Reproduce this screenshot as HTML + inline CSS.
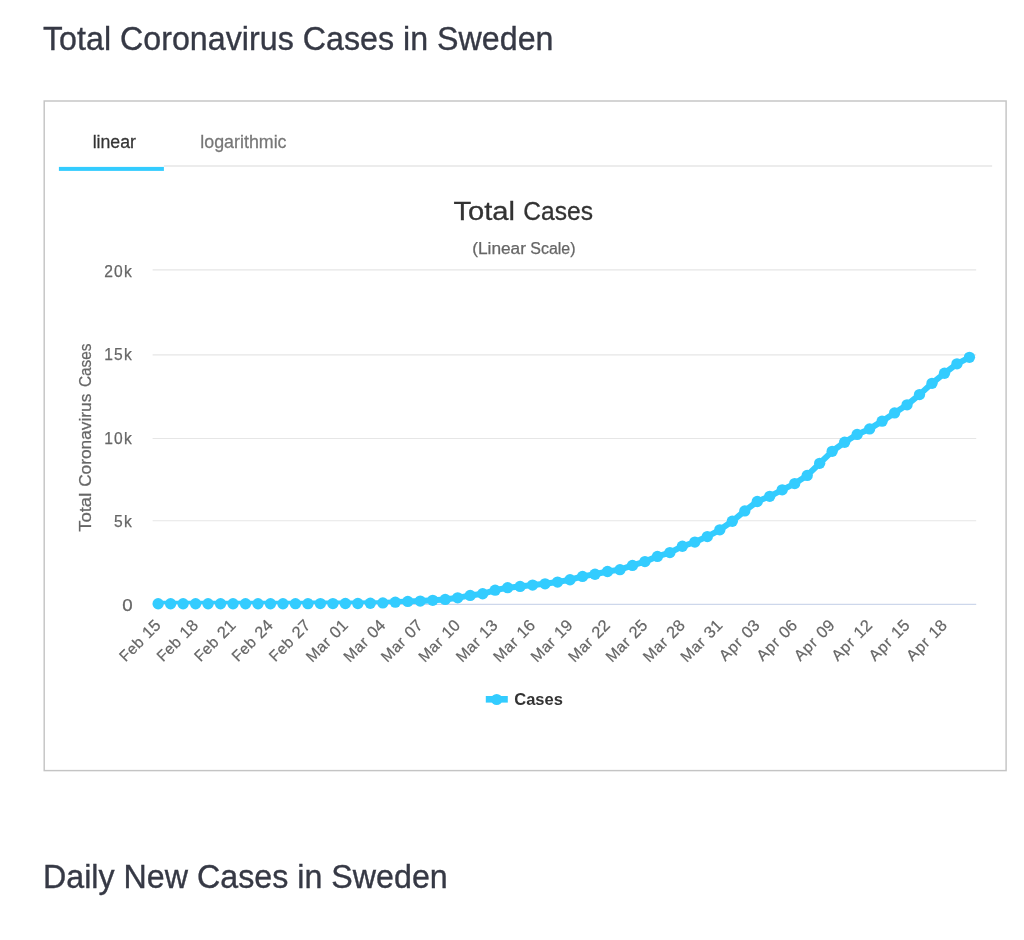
<!DOCTYPE html>
<html lang="en">
<head>
<meta charset="utf-8">
<title>Total Coronavirus Cases in Sweden</title>
<style>
html,body{margin:0;padding:0;background:#fff;}
body{width:1024px;height:940px;position:relative;overflow:hidden;font-family:"Liberation Sans",sans-serif;color:#363945;}
h3,ul,li,a,div{margin:0;padding:0;list-style:none;font-weight:normal;font-size:0;line-height:0;text-decoration:none;color:inherit;}
/* every piece is an inline svg pinned in page coordinates; own layer => greyscale text AA like the reference */
svg{position:absolute;will-change:transform;overflow:visible;}
svg text{font-family:"Liberation Sans",sans-serif;}
</style>
</head>
<body>
<h3 id="total-cases-heading"><svg style="left:0px;top:0px" width="1024" height="80" viewBox="0 0 1024 80"><text font-size="32.2" fill="#363945" stroke="#363945" stroke-width="0.35" letter-spacing="0.02" transform="translate(43,50.18) scale(1,1.035)">Total Coronavirus Cases in Sweden</text></svg></h3>
<div id="total-cases-panel">
<svg class="frame" style="left:40px;top:96px" width="972" height="680" viewBox="40 96 972 680"><rect x="44.2" y="101" width="961.9" height="669.6" fill="none" stroke="#c4c4c4" stroke-width="1.45"/></svg>
<ul class="nav nav-tabs">
<li class="active"><a><svg style="left:60px;top:120px" width="104" height="44" viewBox="60 120 104 44"><text transform="translate(92.65,147.5) scale(1,1.02)" font-size="17.7" fill="#333" stroke="#333" stroke-width="0.25">linear</text></svg></a></li>
<li><a><svg style="left:166px;top:120px" width="156" height="44" viewBox="166 120 156 44"><text transform="translate(200.3,147.5) scale(1,1.02)" font-size="17.85" fill="#777" stroke="#777" stroke-width="0.25">logarithmic</text></svg></a></li>
</ul>
<svg class="tabline" style="left:56px;top:160px" width="940" height="14" viewBox="56 160 940 14"><line x1="163.9" x2="992.1" y1="166" y2="166" stroke="#e6e6e6" stroke-width="1.35"/><rect x="58.9" y="166.9" width="105" height="4" fill="#33ccff"/></svg>
<div class="tab-content"><div id="coronavirus-cases-linear"><svg class="chart" style="left:56px;top:180px" width="940" height="570" viewBox="56 180 940 570">
<g class="hc-title"><text y="220.0" font-size="26.6" fill="#333" stroke="#333" stroke-width="0.3"><tspan x="453.44" textLength="61.62" lengthAdjust="spacingAndGlyphs">Total</tspan><tspan x="523.37" textLength="69.57" lengthAdjust="spacingAndGlyphs">Cases</tspan></text></g>
<g class="hc-subtitle"><text y="253.6" font-size="15.8" fill="#666" stroke="#666" stroke-width="0.25"><tspan x="472.22" textLength="53.74" lengthAdjust="spacingAndGlyphs">(Linear</tspan><tspan x="530.28" textLength="45.21" lengthAdjust="spacingAndGlyphs">Scale)</tspan></text></g>
<g class="hc-grid" stroke="#e6e6e6" stroke-width="1.1"><line x1="152.6" x2="976.2" y1="269.85" y2="269.85"/><line x1="152.6" x2="976.2" y1="354.9" y2="354.9"/><line x1="152.6" x2="976.2" y1="438.5" y2="438.5"/><line x1="152.6" x2="976.2" y1="520.8" y2="520.8"/></g>
<line class="hc-axis-line" x1="152.6" x2="976.2" y1="604.4" y2="604.4" stroke="#cdd7eb" stroke-width="1.4"/>
<g class="hc-yaxis-labels" font-size="15.6" fill="#666" stroke="#666" stroke-width="0.25" letter-spacing="1.15"><text x="132.9" y="277.2" text-anchor="end">20k</text><text x="132.9" y="359.9" text-anchor="end">15k</text><text x="132.9" y="443.9" text-anchor="end">10k</text><text x="132.9" y="526.6" text-anchor="end">5k</text><text y="611.0" letter-spacing="0"><tspan x="122.15" textLength="10.42" lengthAdjust="spacingAndGlyphs">0</tspan></text></g>
<g class="hc-yaxis-title"><text transform="translate(91,0) rotate(-90)" font-size="16" fill="#666" stroke="#666" stroke-width="0.25"><tspan x="-531.82" textLength="39.06" lengthAdjust="spacingAndGlyphs">Total</tspan><tspan x="-486.86" textLength="93.15" lengthAdjust="spacingAndGlyphs">Coronavirus</tspan><tspan x="-387.07" textLength="43.60" lengthAdjust="spacingAndGlyphs">Cases</tspan></text></g>
<defs><clipPath id="cp"><rect x="152.5" y="260" width="823.8" height="344.0"/></clipPath></defs>
<g class="hc-series"><path d="M158.14 603.73 L170.62 603.73 L183.10 603.73 L195.59 603.73 L208.07 603.73 L220.55 603.73 L233.03 603.73 L245.51 603.73 L258.00 603.73 L270.48 603.73 L282.96 603.73 L295.44 603.72 L307.92 603.63 L320.40 603.57 L332.89 603.53 L345.37 603.52 L357.85 603.50 L370.33 603.25 L382.81 602.88 L395.30 602.18 L407.78 601.47 L420.26 601.06 L432.74 600.36 L445.22 599.40 L457.70 597.83 L470.19 595.41 L482.67 593.76 L495.15 590.17 L507.63 587.72 L520.11 586.41 L532.60 585.05 L545.08 583.80 L557.56 582.05 L570.04 579.75 L582.52 576.42 L595.00 574.23 L607.49 571.50 L619.97 569.63 L632.45 565.41 L644.93 561.62 L657.41 556.39 L669.90 552.57 L682.38 546.26 L694.86 542.04 L707.34 536.57 L719.82 529.79 L732.30 521.25 L744.79 510.89 L757.27 501.50 L769.75 496.30 L782.23 489.84 L794.71 483.57 L807.20 475.45 L819.68 463.34 L832.16 451.30 L844.64 442.23 L857.12 434.46 L869.60 428.92 L882.09 421.16 L894.57 412.88 L907.05 404.84 L919.53 394.61 L932.01 383.34 L944.50 373.23 L956.98 363.84 L969.46 357.31" fill="none" stroke="#33ccff" stroke-width="6.0" stroke-linejoin="round" stroke-linecap="round" clip-path="url(#cp)"/>
<g class="hc-markers" fill="#33ccff"><circle cx="158.14" cy="603.73" r="5.65"/><circle cx="170.62" cy="603.73" r="5.65"/><circle cx="183.10" cy="603.73" r="5.65"/><circle cx="195.59" cy="603.73" r="5.65"/><circle cx="208.07" cy="603.73" r="5.65"/><circle cx="220.55" cy="603.73" r="5.65"/><circle cx="233.03" cy="603.73" r="5.65"/><circle cx="245.51" cy="603.73" r="5.65"/><circle cx="258.00" cy="603.73" r="5.65"/><circle cx="270.48" cy="603.73" r="5.65"/><circle cx="282.96" cy="603.73" r="5.65"/><circle cx="295.44" cy="603.72" r="5.65"/><circle cx="307.92" cy="603.63" r="5.65"/><circle cx="320.40" cy="603.57" r="5.65"/><circle cx="332.89" cy="603.53" r="5.65"/><circle cx="345.37" cy="603.52" r="5.65"/><circle cx="357.85" cy="603.50" r="5.65"/><circle cx="370.33" cy="603.25" r="5.65"/><circle cx="382.81" cy="602.88" r="5.65"/><circle cx="395.30" cy="602.18" r="5.65"/><circle cx="407.78" cy="601.47" r="5.65"/><circle cx="420.26" cy="601.06" r="5.65"/><circle cx="432.74" cy="600.36" r="5.65"/><circle cx="445.22" cy="599.40" r="5.65"/><circle cx="457.70" cy="597.83" r="5.65"/><circle cx="470.19" cy="595.41" r="5.65"/><circle cx="482.67" cy="593.76" r="5.65"/><circle cx="495.15" cy="590.17" r="5.65"/><circle cx="507.63" cy="587.72" r="5.65"/><circle cx="520.11" cy="586.41" r="5.65"/><circle cx="532.60" cy="585.05" r="5.65"/><circle cx="545.08" cy="583.80" r="5.65"/><circle cx="557.56" cy="582.05" r="5.65"/><circle cx="570.04" cy="579.75" r="5.65"/><circle cx="582.52" cy="576.42" r="5.65"/><circle cx="595.00" cy="574.23" r="5.65"/><circle cx="607.49" cy="571.50" r="5.65"/><circle cx="619.97" cy="569.63" r="5.65"/><circle cx="632.45" cy="565.41" r="5.65"/><circle cx="644.93" cy="561.62" r="5.65"/><circle cx="657.41" cy="556.39" r="5.65"/><circle cx="669.90" cy="552.57" r="5.65"/><circle cx="682.38" cy="546.26" r="5.65"/><circle cx="694.86" cy="542.04" r="5.65"/><circle cx="707.34" cy="536.57" r="5.65"/><circle cx="719.82" cy="529.79" r="5.65"/><circle cx="732.30" cy="521.25" r="5.65"/><circle cx="744.79" cy="510.89" r="5.65"/><circle cx="757.27" cy="501.50" r="5.65"/><circle cx="769.75" cy="496.30" r="5.65"/><circle cx="782.23" cy="489.84" r="5.65"/><circle cx="794.71" cy="483.57" r="5.65"/><circle cx="807.20" cy="475.45" r="5.65"/><circle cx="819.68" cy="463.34" r="5.65"/><circle cx="832.16" cy="451.30" r="5.65"/><circle cx="844.64" cy="442.23" r="5.65"/><circle cx="857.12" cy="434.46" r="5.65"/><circle cx="869.60" cy="428.92" r="5.65"/><circle cx="882.09" cy="421.16" r="5.65"/><circle cx="894.57" cy="412.88" r="5.65"/><circle cx="907.05" cy="404.84" r="5.65"/><circle cx="919.53" cy="394.61" r="5.65"/><circle cx="932.01" cy="383.34" r="5.65"/><circle cx="944.50" cy="373.23" r="5.65"/><circle cx="956.98" cy="363.84" r="5.65"/><circle cx="969.46" cy="357.31" r="5.65"/></g></g>
<g class="hc-xaxis-labels" font-size="15.4" fill="#666" stroke="#666" stroke-width="0.22" letter-spacing="0" word-spacing="0.9"><text transform="translate(161.69,626.35) rotate(-45)" text-anchor="end"><tspan letter-spacing="0.3">Feb</tspan><tspan font-size="16.4"> 15</tspan></text><text transform="translate(199.14,626.35) rotate(-45)" text-anchor="end"><tspan letter-spacing="0.3">Feb</tspan><tspan font-size="16.4"> 18</tspan></text><text transform="translate(236.58,626.35) rotate(-45)" text-anchor="end"><tspan letter-spacing="0.3">Feb</tspan><tspan font-size="16.4"> 21</tspan></text><text transform="translate(274.03,626.35) rotate(-45)" text-anchor="end"><tspan letter-spacing="0.3">Feb</tspan><tspan font-size="16.4"> 24</tspan></text><text transform="translate(311.47,626.35) rotate(-45)" text-anchor="end"><tspan letter-spacing="0.3">Feb</tspan><tspan font-size="16.4"> 27</tspan></text><text transform="translate(348.92,626.35) rotate(-45)" text-anchor="end"><tspan letter-spacing="0.5">Mar</tspan><tspan font-size="16.4"> 01</tspan></text><text transform="translate(386.36,626.35) rotate(-45)" text-anchor="end"><tspan letter-spacing="0.5">Mar</tspan><tspan font-size="16.4"> 04</tspan></text><text transform="translate(423.81,626.35) rotate(-45)" text-anchor="end"><tspan letter-spacing="0.5">Mar</tspan><tspan font-size="16.4"> 07</tspan></text><text transform="translate(461.25,626.35) rotate(-45)" text-anchor="end"><tspan letter-spacing="0.5">Mar</tspan><tspan font-size="16.4"> 10</tspan></text><text transform="translate(498.70,626.35) rotate(-45)" text-anchor="end"><tspan letter-spacing="0.5">Mar</tspan><tspan font-size="16.4"> 13</tspan></text><text transform="translate(536.15,626.35) rotate(-45)" text-anchor="end"><tspan letter-spacing="0.5">Mar</tspan><tspan font-size="16.4"> 16</tspan></text><text transform="translate(573.59,626.35) rotate(-45)" text-anchor="end"><tspan letter-spacing="0.5">Mar</tspan><tspan font-size="16.4"> 19</tspan></text><text transform="translate(611.04,626.35) rotate(-45)" text-anchor="end"><tspan letter-spacing="0.5">Mar</tspan><tspan font-size="16.4"> 22</tspan></text><text transform="translate(648.48,626.35) rotate(-45)" text-anchor="end"><tspan letter-spacing="0.5">Mar</tspan><tspan font-size="16.4"> 25</tspan></text><text transform="translate(685.93,626.35) rotate(-45)" text-anchor="end"><tspan letter-spacing="0.5">Mar</tspan><tspan font-size="16.4"> 28</tspan></text><text transform="translate(723.37,626.35) rotate(-45)" text-anchor="end"><tspan letter-spacing="0.5">Mar</tspan><tspan font-size="16.4"> 31</tspan></text><text transform="translate(760.82,626.35) rotate(-45)" text-anchor="end"><tspan letter-spacing="0.85">Apr</tspan><tspan font-size="16.4"> 03</tspan></text><text transform="translate(798.26,626.35) rotate(-45)" text-anchor="end"><tspan letter-spacing="0.85">Apr</tspan><tspan font-size="16.4"> 06</tspan></text><text transform="translate(835.71,626.35) rotate(-45)" text-anchor="end"><tspan letter-spacing="0.85">Apr</tspan><tspan font-size="16.4"> 09</tspan></text><text transform="translate(873.15,626.35) rotate(-45)" text-anchor="end"><tspan letter-spacing="0.85">Apr</tspan><tspan font-size="16.4"> 12</tspan></text><text transform="translate(910.60,626.35) rotate(-45)" text-anchor="end"><tspan letter-spacing="0.85">Apr</tspan><tspan font-size="16.4"> 15</tspan></text><text transform="translate(948.05,626.35) rotate(-45)" text-anchor="end"><tspan letter-spacing="0.85">Apr</tspan><tspan font-size="16.4"> 18</tspan></text></g>
<g class="hc-legend"><rect x="485.8" y="696.0" width="22" height="6.6" fill="#33ccff"/>
<circle cx="496.7" cy="699.5" r="5.6" fill="#33ccff"/>
<text y="704.7" font-size="16" font-weight="bold" fill="#333"><tspan x="514.24" textLength="48.65" lengthAdjust="spacingAndGlyphs">Cases</tspan></text></g>
</svg></div></div>
</div>
<h3 id="daily-cases-heading"><svg style="left:0px;top:840px" width="1024" height="100" viewBox="0 840 1024 100"><text font-size="32.2" fill="#363945" stroke="#363945" stroke-width="0.35" letter-spacing="0.02" transform="translate(43,888.18) scale(1,1.035)">Daily New Cases in Sweden</text></svg></h3>
</body>
</html>
